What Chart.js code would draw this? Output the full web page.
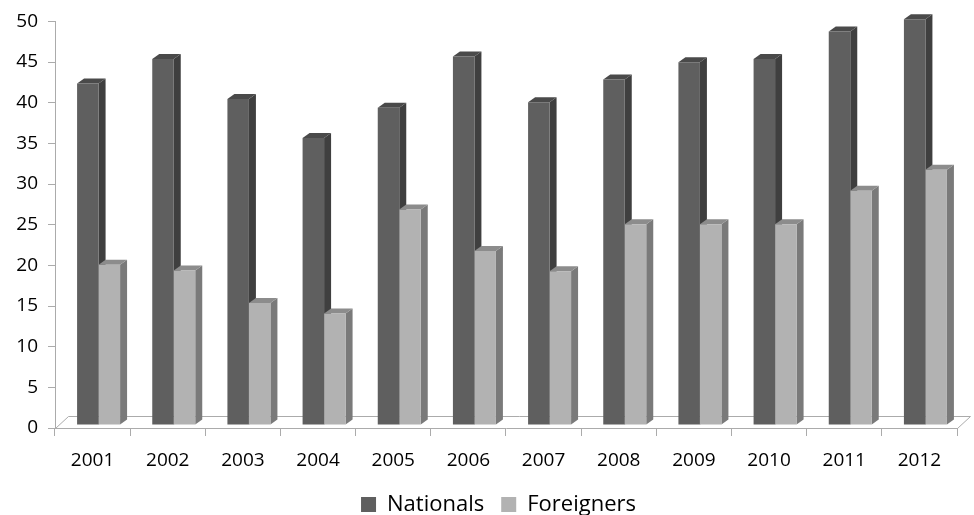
<!DOCTYPE html>
<html>
<head>
<meta charset="utf-8">
<title>Nationals and Foreigners, 2001–2012</title>
<script src="https://cdn.jsdelivr.net/npm/chart.js@4.4.1/dist/chart.umd.min.js"></script>
<style>
  html, body { margin: 0; padding: 0; background: #ffffff; }
  #c { display: block; }
</style>
</head>
<body>
<canvas id="c" width="974" height="515"></canvas>
<script>
// Data
const years = ['2001', '2002', '2003', '2004', '2005', '2006', '2007', '2008', '2009', '2010', '2011', '2012'];
const nationals = [42.0, 45.0, 40.1, 35.3, 39.0, 45.3, 39.7, 42.5, 44.6, 45.0, 48.4, 49.9];
const foreigners = [19.7, 19.0, 15.0, 13.7, 26.5, 21.4, 18.9, 24.7, 24.7, 24.7, 28.8, 31.4];
const yMin = 0, yMax = 50, yStep = 5;

// Styling
const FONT = "'Open Sans', 'DejaVu Sans', sans-serif";
const AXIS_COLOR = '#ababab';
const BAR_DEPTH = { dx: 7, dy: -5 };     // side/top face extrusion
const BAR_SHIFT = { x: 6, y: -3 };       // columns stand slightly inside the floor
const FLOOR_DEPTH = { dx: 13, dy: -12 }; // floor parallelogram depth
const LEGEND_INSET = 15;                 // legend block starts this far left of the plot

// Draws the floor outline and the extruded side/top faces of each column;
// the front faces are drawn afterwards by the bar controller, so they sit on top.
const columns3d = {
  id: 'columns3d',
  afterLayout(chart) {
    // centre the legend under the tick labels + plot rather than the whole canvas
    if (chart.legend) chart.legend.left = chart.chartArea.left - LEGEND_INSET;
  },
  beforeDatasetsDraw(chart) {
    const { ctx, chartArea: a } = chart;
    const L = Math.round(a.left) + 0.5;
    const R = Math.round(a.right) + 0.5;
    const B = Math.round(a.bottom) + 0.5;
    ctx.save();
    ctx.strokeStyle = AXIS_COLOR;
    ctx.lineWidth = 1;
    ctx.beginPath();
    ctx.moveTo(L, B);
    ctx.lineTo(L + FLOOR_DEPTH.dx, B + FLOOR_DEPTH.dy);
    ctx.lineTo(R + FLOOR_DEPTH.dx, B + FLOOR_DEPTH.dy);
    ctx.lineTo(R, B);
    ctx.stroke();

    ctx.translate(BAR_SHIFT.x, BAR_SHIFT.y);
    const metas = chart.data.datasets.map((_, i) => chart.getDatasetMeta(i));
    const n = chart.data.labels.length;
    const { dx, dy } = BAR_DEPTH;
    for (let j = 0; j < n; j++) {
      metas.forEach((meta, i) => {
        const ds = chart.data.datasets[i];
        const bar = meta.data[j];
        if (!bar) return;
        const { x, y, base, width } = bar.getProps(['x', 'y', 'base', 'width'], true);
        const l = x - width / 2, r = x + width / 2;
        // right side face
        ctx.fillStyle = ds.sideColor;
        ctx.beginPath();
        ctx.moveTo(r, base);
        ctx.lineTo(r, y);
        ctx.lineTo(r + dx, y + dy);
        ctx.lineTo(r + dx, base + dy);
        ctx.closePath();
        ctx.fill();
        // top face
        ctx.fillStyle = ds.topColor;
        ctx.beginPath();
        ctx.moveTo(l, y);
        ctx.lineTo(r, y);
        ctx.lineTo(r + dx, y + dy);
        ctx.lineTo(l + dx, y + dy);
        ctx.closePath();
        ctx.fill();
      });
    }
    ctx.restore();
  },
  beforeDatasetDraw(chart) {
    chart.ctx.save();
    chart.ctx.translate(BAR_SHIFT.x, BAR_SHIFT.y);
  },
  afterDatasetDraw(chart) {
    chart.ctx.restore();
  }
};

new Chart(document.getElementById('c'), {
  type: 'bar',
  data: {
    labels: years,
    datasets: [
      { label: 'Nationals', data: nationals, backgroundColor: '#5f5f5f', sideColor: '#3f3f3f', topColor: '#4a4a4a' },
      { label: 'Foreigners', data: foreigners, backgroundColor: '#b2b2b2', sideColor: '#7a7a7a', topColor: '#8c8c8c' }
    ]
  },
  options: {
    responsive: false,
    animation: false,
    devicePixelRatio: 1,
    layout: { padding: { left: 0, right: 17, top: 17, bottom: -10.5 } },
    datasets: {
      bar: { categoryPercentage: 0.572, barPercentage: 1, borderWidth: 0, clip: false }
    },
    scales: {
      x: {
        grid: { display: true, drawOnChartArea: false, drawTicks: true, tickLength: 8, color: AXIS_COLOR, offset: true },
        border: { display: true, color: AXIS_COLOR },
        ticks: { color: '#000', font: { family: FONT, size: 19 }, padding: 13, maxRotation: 0, autoSkip: false },
        afterFit(s) { s.height = 48.5; }
      },
      y: {
        min: yMin,
        max: yMax,
        grid: { display: true, drawOnChartArea: false, drawTicks: true, tickLength: 7, color: AXIS_COLOR },
        border: { display: true, color: AXIS_COLOR },
        ticks: { stepSize: yStep, color: '#000', font: { family: FONT, size: 19 }, padding: 10 },
        afterFit(s) { s.width = 55; }
      }
    },
    plugins: {
      legend: {
        position: 'bottom',
        labels: { boxWidth: 15, boxHeight: 15, padding: 17, color: '#000', font: { family: FONT, size: 22 } }
      },
      tooltip: { enabled: false }
    }
  },
  plugins: [columns3d]
});
</script>
</body>
</html>
